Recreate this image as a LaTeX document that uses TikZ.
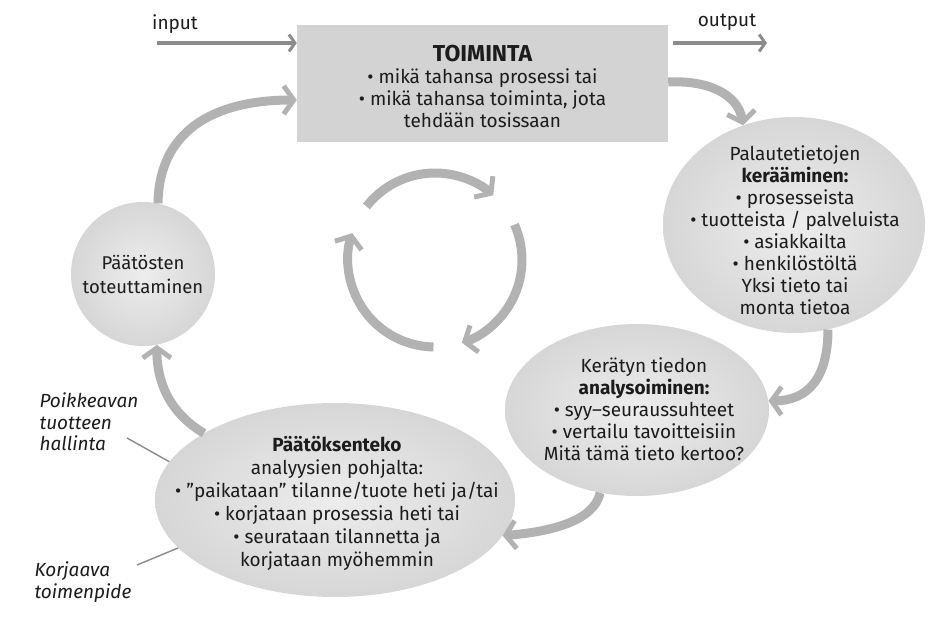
\documentclass[tikz,border=0pt]{standalone}
\usepackage{fontspec}
\setmainfont{Fira Sans}
\usetikzlibrary{shapes.geometric,arrows.meta,calc}

\definecolor{flow}{HTML}{B2B2B2}
\definecolor{iocol}{HTML}{8C8C8C}
\definecolor{ink}{HTML}{1C1C1C}
\definecolor{boxfill}{HTML}{D3D3D3}
\definecolor{leader}{HTML}{8A8A8A}

\begin{document}
\begin{tikzpicture}[x=1pt,y=-1pt,
  txt/.style={text=ink, align=center, font=\fontsize{19}{22}\selectfont},
  bubble/.style={ellipse, draw=none, inner sep=0pt,
    inner color=gray!14, outer color=gray!32},
  flowarrow/.style={draw=flow, line width=9pt,
    -{Straight Barb[length=10pt,width=28pt,line width=5pt]}},
  ioarrow/.style={draw=iocol, line width=3.5pt,
    -{Straight Barb[length=6pt,width=17pt,line width=3pt]}},
  sidenote/.style={text=ink, font=\fontsize{19}{21.5}\selectfont\itshape, align=left},
  leaderline/.style={draw=leader, line width=1.4pt}
]
\useasboundingbox (0,0) rectangle (929,617);

% activity box
\node[fill=boxfill, minimum width=371pt, minimum height=117pt, inner sep=0pt] (box) at (482.5,83.5) {};
\node[txt] (box text) at (482.5,86)
  {{\fontsize{23}{22}\selectfont\bfseries TOIMINTA}\\
   • mikä tahansa prosessi tai\\
   • mikä tahansa toiminta, jota\\
   tehdään tosissaan};

% stages of the loop: shapes
\node[bubble, minimum width=262pt, minimum height=216pt] (pal) at (794,225) {};
\node[bubble, minimum width=264pt, minimum height=172pt] (ana) at (637,410) {};
\node[bubble, minimum width=360pt, minimum height=194pt] (dec) at (335,500) {};
\node[bubble, minimum width=144pt, minimum height=144pt] (circ) at (143,274) {};

% stages of the loop: texts
\node[txt] (pal text) at (795,230)
  {Palautetietojen\\ \textbf{kerääminen:}\\ • prosesseista\\
   • tuotteista / palveluista\\ • asiakkailta\\ • henkilöstöltä\\
   Yksi tieto tai\\ monta tietoa};
\node[txt] (ana text) at (644,409)
  {Kerätyn tiedon\\ \textbf{analysoiminen:}\\ • syy–seuraussuhteet\\
   • vertailu tavoitteisiin\\ Mitä tämä tieto kertoo?};
\node[txt, font=\fontsize{19}{23}\selectfont] (dec text) at (337,503)
  {\textbf{Päätöksenteko}\\ analyysien pohjalta:\\
   • ”paikataan” tilanne/tuote heti ja/tai\\
   • korjataan prosessia heti tai\\
   • seurataan tilannetta ja\\ korjataan myöhemmin};
\node[txt, font=\fontsize{18.5}{24}\selectfont] (circ text) at (143,275)
  {Päätösten\\ toteuttaminen};

% input / output
\coordinate (in0) at (157,43);
\coordinate (out1) at (767,43);
\node[txt] (inlab) at (175,24) {input};
\node[txt] (outlab) at (727,22) {output};
\draw[ioarrow] (in0) -- ([yshift=40.5pt]box.west);
\draw[ioarrow] ([xshift=5pt,yshift=40.5pt]box.east) -- (out1);

% loop connectors
\draw[flowarrow] ([yshift=1.5pt]box.east) .. controls (708,80) and (738,94) .. (pal.117);
\draw[flowarrow] (pal.-72) .. controls (828,378) and (808,401) .. (ana.4);
\draw[flowarrow] (ana.246) .. controls (594,522) and (548,532) .. (dec.-12);
\draw[flowarrow] (dec.153) .. controls (178,418) and (157,392) .. (circ.-79);
\draw[flowarrow] (circ.78) .. controls (159,132) and (212,100) .. ([yshift=-16.5pt]box.west);

% central cycle
\coordinate (hub) at (435,260);
\draw[flowarrow] ($(hub)+(142:87pt)$) arc[start angle=142, end angle=48, radius=87pt];
\draw[flowarrow] ($(hub)+(24:87pt)$) arc[start angle=24, end angle=-72, radius=87pt];
\draw[flowarrow] ($(hub)+(-91:87pt)$) arc[start angle=-91, end angle=-198, radius=87pt];

% side notes
\node[sidenote, anchor=west] (note1) at (36,422) {Poikkeavan\\ tuotteen\\ hallinta};
\node[sidenote, anchor=west] (note2) at (31,582) {Korjaava\\ toimenpide};
\coordinate (n1end) at (127,438);
\coordinate (n2end) at (137,565);
\draw[leaderline] (n1end) -- (dec.167);
\draw[leaderline] (n2end) -- (dec.197);
\end{tikzpicture}
\end{document}
